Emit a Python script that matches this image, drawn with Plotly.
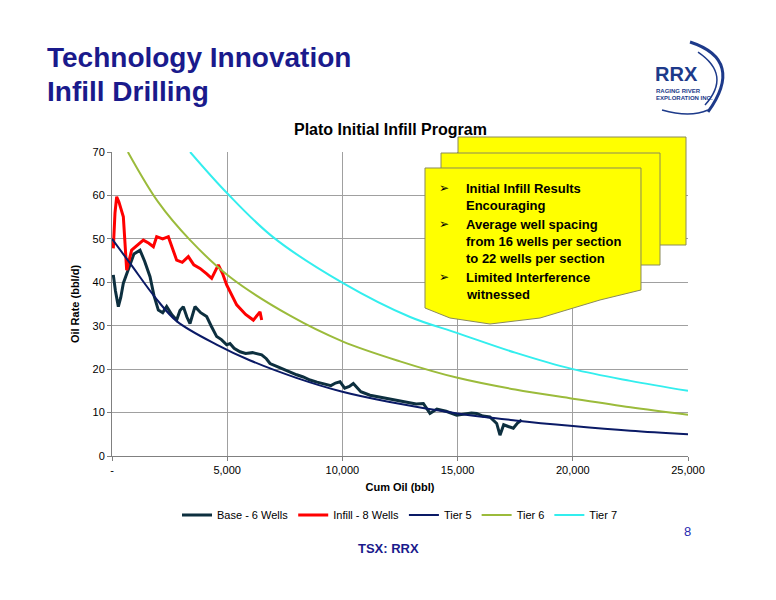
import plotly.graph_objects as go

base_x = [57, 150, 275, 380, 492, 700, 950, 1215, 1420, 1650, 1820, 2011, 2200, 2373, 2600, 2806, 2950, 3096, 3250, 3385, 3500, 3602, 3850, 4109, 4300, 4544, 4750, 4977, 5121, 5300, 5556, 5800, 6100, 6497, 6700, 6858, 7200, 7500, 8015, 8300, 8594, 8900, 9200, 9500, 9700, 9896, 10100, 10300, 10474, 10800, 11198, 11600, 12000, 12356, 12800, 13200, 13513, 13802, 14100, 14500, 14961, 15300, 15600, 15829, 16100, 16400, 16697, 16840, 17000, 17200, 17418, 17600, 17780]
base_y = [41.7, 38.0, 34.4, 36.5, 39.8, 43.0, 46.5, 47.4, 44.8, 41.3, 37.0, 33.6, 33.0, 34.4, 32.5, 31.3, 33.5, 34.4, 32.0, 30.5, 32.5, 34.4, 33.0, 32.1, 30.0, 27.5, 26.8, 25.6, 25.9, 24.8, 24.0, 23.6, 23.8, 23.3, 22.4, 21.3, 20.5, 19.8, 18.7, 18.2, 17.5, 17.0, 16.6, 16.2, 16.8, 17.1, 15.6, 16.0, 16.7, 14.8, 14.0, 13.6, 13.2, 12.9, 12.4, 12.0, 12.1, 9.8, 10.8, 10.3, 9.4, 9.6, 9.9, 9.8, 9.2, 9.0, 7.5, 4.8, 7.2, 6.8, 6.4, 7.6, 8.3]

infill_x = [57, 130, 203, 300, 492, 637, 853, 1100, 1360, 1600, 1795, 1939, 2200, 2445, 2600, 2806, 3050, 3313, 3550, 3820, 4100, 4326, 4615, 4800, 4977, 5200, 5411, 5800, 6134, 6424, 6496]
infill_y = [47.8, 56.0, 59.7, 58.5, 55.1, 42.8, 47.4, 48.6, 49.7, 49.0, 48.2, 50.5, 50.0, 50.5, 48.0, 45.1, 44.6, 45.9, 44.0, 43.2, 42.0, 40.9, 44.0, 42.0, 39.4, 37.0, 34.8, 32.6, 31.3, 33.2, 31.3]

tier5_x = [0, 780, 1950, 2820, 4560, 6000, 8000, 10000, 12000, 15000, 17500, 20000, 22500, 25000]
tier5_y = [50.0, 44.4, 36.0, 31.0, 25.6, 22.0, 18.0, 14.8, 12.5, 9.8, 8.2, 6.9, 5.8, 5.0]

tier6_x = [690, 2000, 3390, 5120, 7730, 10000, 12500, 15000, 17500, 20000, 22500, 25000]
tier6_y = [70.0, 58.5, 49.7, 41.2, 32.3, 26.4, 21.8, 18.0, 15.3, 13.2, 11.2, 9.5]

tier7_x = [3390, 5000, 6990, 10030, 12940, 15000, 17500, 20000, 22500, 25000]
tier7_y = [70.0, 60.5, 50.4, 39.8, 32.0, 28.3, 23.8, 20.0, 17.3, 15.0]

x_ticks = [0, 5000, 10000, 15000, 20000, 25000]
x_tick_text = ["-", "5,000", "10,000", "15,000", "20,000", "25,000"]

OFF = 8  # page body margin
W, H = 776, 600
L, T = 112 - OFF, 152 - OFF
PW, PH = 576, 304
R, B = W - L - PW, H - T - PH
def px(x): return (x - OFF - L) / PW
def py(y): return (T + PH - (y - OFF)) / PH

fig = go.Figure()
fig.add_trace(go.Scatter(x=base_x, y=base_y, name="Base - 6 Wells", mode="lines", line=dict(color="#0d2f3f", width=3)))
fig.add_trace(go.Scatter(x=infill_x, y=infill_y, name="Infill - 8 Wells", mode="lines", line=dict(color="#ff0000", width=3)))
fig.add_trace(go.Scatter(x=tier5_x, y=tier5_y, name="Tier 5", mode="lines", line=dict(color="#0a1a66", width=2, shape="spline")))
fig.add_trace(go.Scatter(x=tier6_x, y=tier6_y, name="Tier 6", mode="lines", line=dict(color="#9bbb3b", width=2, shape="spline")))
fig.add_trace(go.Scatter(x=tier7_x, y=tier7_y, name="Tier 7", mode="lines", line=dict(color="#33eeee", width=2, shape="spline")))

shapes = []
yel = "#ffff00"
edge = dict(color="#8a8a5a", width=1)
shapes.append(dict(type="rect", xref="paper", yref="paper", x0=px(458), x1=px(686), y0=py(245), y1=py(137), fillcolor=yel, line=edge))
shapes.append(dict(type="rect", xref="paper", yref="paper", x0=px(441), x1=px(660), y0=py(265), y1=py(153), fillcolor=yel, line=edge))
pts = [(425, 168), (641, 168), (641, 290), (600, 300), (540, 318), (490, 324), (450, 318), (425, 308)]
path = "M " + " L ".join(f"{px(a):.4f},{py(b):.4f}" for a, b in pts) + " Z"
shapes.append(dict(type="path", xref="paper", yref="paper", path=path, fillcolor=yel, line=edge))
blue = "#1d3a8a"
def qpath(a, c, b):
    return f"M {px(a[0]):.4f},{py(a[1]):.4f} Q {px(c[0]):.4f},{py(c[1]):.4f} {px(b[0]):.4f},{py(b[1]):.4f}"
shapes.append(dict(type="path", xref="paper", yref="paper", path=qpath((690, 42), (745, 60), (708, 112)), line=dict(color=blue, width=3)))
shapes.append(dict(type="path", xref="paper", yref="paper", path=qpath((698, 52), (732, 75), (705, 105)), line=dict(color=blue, width=1.5)))
shapes.append(dict(type="path", xref="paper", yref="paper", path=qpath((662, 110), (690, 118), (708, 110)), line=dict(color=blue, width=1.5)))

ann = []
def txt(x, y, s, size, color="#000", bold=True, xa="left", ya="middle"):
    ann.append(dict(xref="paper", yref="paper", x=px(x), y=py(y), text=(f"<b>{s}</b>" if bold else s),
                    showarrow=False, xanchor=xa, yanchor=ya, font=dict(size=size, color=color, family="Arial, Liberation Sans")))
navy = "#1a1a8c"
txt(45, 57, "Technology Innovation", 28, navy)
txt(45, 92, "Infill Drilling", 28, navy)
txt(390, 129, "Plato Initial Infill Program", 16, "#000", xa="center")
txt(693, 531, "8", 13, "#2a2ab0", bold=False, xa="right")
txt(388, 548, "TSX: RRX", 13, navy, xa="center")
bullets = [(188, "➢", "Initial Infill Results"), (205, "", "Encouraging"), (224, "➢", "Average well spacing"),
           (241, "", "from 16 wells per section"), (258, "", "to 22 wells per section"),
           (277, "➢", "Limited Interference"), (294, "", "witnessed")]
for yy, b, s in bullets:
    if b:
        txt(437, yy, b, 12, "#000", bold=False)
    txt(464, yy, s, 13)
txt(653, 74, "RRX", 20, blue)
txt(654, 91, "RAGING RIVER", 6, blue)
txt(654, 98, "EXPLORATION INC.", 6, blue)

fig.update_layout(
    width=W, height=H, margin=dict(l=L, r=R, t=T, b=B),
    paper_bgcolor="white", plot_bgcolor="white",
    shapes=shapes, annotations=ann,
    font=dict(family="Arial, Liberation Sans", size=11, color="#000"),
    legend=dict(orientation="h", x=0.5, xanchor="center", y=py(515), yanchor="middle", font=dict(size=11)),
    xaxis=dict(range=[0, 25000], tickvals=x_ticks, ticktext=x_tick_text, showgrid=True, gridcolor="#a0a0a0",
               showline=True, linecolor="#808080", ticks="outside", ticklen=4, tickcolor="#808080",
               title=dict(text="<b>Cum Oil (bbl)</b>", font=dict(size=11), standoff=8), zeroline=False),
    yaxis=dict(range=[0, 70], dtick=10, showgrid=True, gridcolor="#a0a0a0", showline=True, linecolor="#808080",
               ticks="outside", ticklen=4, tickcolor="#808080",
               title=dict(text="<b>Oil Rate (bbl/d)</b>", font=dict(size=11), standoff=10), zeroline=False),
)
fig.write_html("out.html")
